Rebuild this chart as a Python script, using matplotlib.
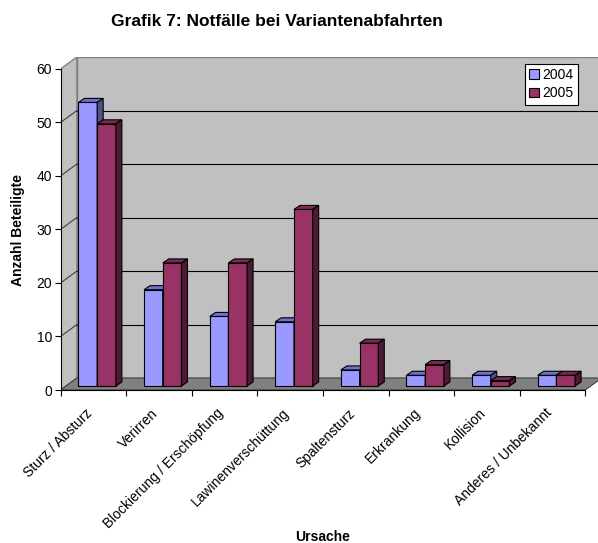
import matplotlib.pyplot as plt
from matplotlib.patches import Polygon, Rectangle, Patch
from matplotlib import transforms

plt.rcParams['font.family'] = ['Liberation Sans', 'DejaVu Sans']

categories = ['Sturz / Absturz', 'Verirren', 'Blockierung / Erschöpfung',
              'Lawinenverschüttung', 'Spaltensturz', 'Erkrankung',
              'Kollision', 'Anderes / Unbekannt']
series_names = ['2004', '2005']
values_2004 = [53, 18, 13, 12, 3, 2, 2, 2]
values_2005 = [49, 23, 23, 33, 8, 4, 1, 2]

front_cols = ['#9999FF', '#993366']
top_cols = ['#7070D0', '#7A2952']
side_cols = ['#50508A', '#4D1A33']

# pseudo 3d geometry (data units)
DX, DY = 0.25, 2.24      # wall depth
BY = 0.75                # bars sit a bit behind the front edge
BDX, BDY = 0.0915, 0.75  # bar depth
BW = 0.285
BX0 = 0.274
n = len(categories)

fig = plt.figure(figsize=(5.98, 5.43), dpi=100)
ax = fig.add_axes([60.5 / 598, 153 / 543, 541.2 / 598, 333 / 543])
ax.set_xlim(0, 8.25)
ax.set_ylim(0, 62.24)
ax.patch.set_visible(False)

# walls and floor
ax.add_patch(Polygon([(DX, DY), (n + DX, DY), (n + DX, 60 + DY), (DX, 60 + DY)],
                     closed=True, facecolor='#C0C0C0', edgecolor='#808080', lw=1, zorder=0))
ax.add_patch(Polygon([(0, 0), (0, 60), (DX, 60 + DY), (DX, DY)],
                     closed=True, facecolor='#C0C0C0', edgecolor='#808080', lw=1, zorder=0))
for g in range(10, 60, 10):
    ax.plot([DX, n + DX], [g + DY, g + DY], color='black', lw=0.8, zorder=1)
    ax.plot([0, DX], [g, g + DY], color='#404040', lw=0.8, zorder=1)
ax.add_patch(Polygon([(0, 0), (n, 0), (n + DX, DY), (DX, DY)],
                     closed=True, facecolor='#808080', edgecolor='#404040', lw=0.8, zorder=2))

# bars
for s, vals in enumerate([values_2004, values_2005]):
    for i, v in enumerate(vals):
        x0 = i + BX0 + s * BW
        ax.add_patch(Rectangle((x0, BY), BW, v, facecolor=front_cols[s],
                               edgecolor='black', lw=0.8, zorder=3 + i * 2 + s))
        ax.add_patch(Polygon([(x0, BY + v), (x0 + BW, BY + v),
                              (x0 + BW + BDX, BY + v + BDY), (x0 + BDX, BY + v + BDY)],
                             closed=True, facecolor=top_cols[s], edgecolor='black',
                             lw=0.8, zorder=3 + i * 2 + s))
        ax.add_patch(Polygon([(x0 + BW, BY), (x0 + BW + BDX, BY + BDY),
                              (x0 + BW + BDX, BY + v + BDY), (x0 + BW, BY + v)],
                             closed=True, facecolor=side_cols[s], edgecolor='black',
                             lw=0.8, zorder=3 + i * 2 + s))

# axes
for sp in ['top', 'right']:
    ax.spines[sp].set_visible(False)
ax.spines['left'].set_bounds(0, 60)
ax.spines['bottom'].set_bounds(0, n)
ax.spines['left'].set_zorder(30)
ax.spines['bottom'].set_zorder(30)
ax.set_yticks(range(0, 61, 10))
ax.set_xticks(range(0, n + 1))
ax.set_xticklabels([])
ax.tick_params(axis='both', direction='out', length=4, width=0.8, labelsize=10, pad=2)

lab_tr = transforms.offset_copy(ax.transData, fig=fig, x=-8, y=-16, units='dots')
for i, c in enumerate(categories):
    ax.text(i + 0.5, 0, c, transform=lab_tr, rotation=45, rotation_mode='anchor',
            ha='right', va='top', fontsize=10)

fig.text(277 / 598, 1 - 21 / 543, 'Grafik 7: Notfälle bei Variantenabfahrten',
         ha='center', va='center', fontsize=12.5, fontweight='bold')
fig.text(18 / 598, 1 - 229.5 / 543, 'Anzahl Beteiligte', rotation=90,
         ha='center', va='center', fontsize=10, fontweight='bold')
fig.text(323 / 598, 1 - 537 / 543, 'Ursache', ha='center', va='center',
         fontsize=10, fontweight='bold')

handles = [Patch(facecolor=front_cols[k], edgecolor='black', lw=0.8) for k in range(2)]
leg = ax.legend(handles, series_names, loc='upper right',
                bbox_to_anchor=(578 / 598, 1 - 64 / 543), bbox_transform=fig.transFigure,
                fontsize=10, fancybox=False, framealpha=1, edgecolor='black',
                handlelength=0.7, handleheight=0.7, handletextpad=0.3,
                borderpad=0.3, labelspacing=0.3, borderaxespad=0)
leg.get_frame().set_linewidth(0.8)
leg.set_zorder(40)

fig.savefig('out.png', dpi=100)
